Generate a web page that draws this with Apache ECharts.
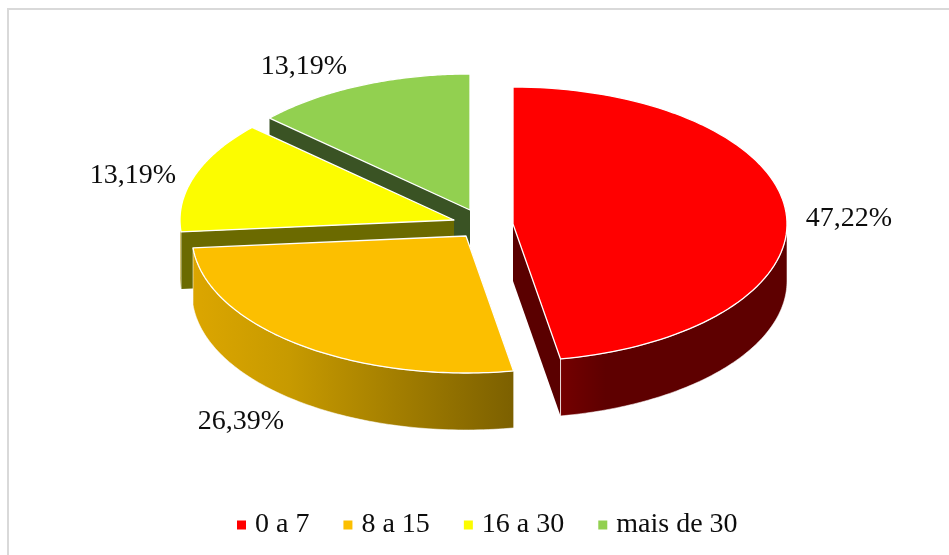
<!DOCTYPE html>
<html>
<head>
<meta charset="utf-8">
<style>html,body{margin:0;padding:0;background:#fff}#c{width:949px;height:555px}</style>
<script src="https://cdn.jsdelivr.net/npm/echarts@6/dist/echarts.min.js"></script>
</head>
<body>
<div id="c"></div>
<script>
var categories = ['0 a 7', '8 a 15', '16 a 30', 'mais de 30'];
var values = [47.22, 26.39, 13.19, 13.19];
var colors = ['#ff0000', '#fcbf00', '#fcfc00', '#92d050'];
var wallEnds = [['#740000', '#5e0000'], ['#dca600', '#7c6000'], ['#6b6a00', '#6b6a00'], ['#3a5324', '#3a5324']];
var sideColors = ['#5a0000', '#7c6000', '#6b6a00', '#3a5324'];

var DEPTH = 57;
var radii = [[274, 137], [274, 137], [274, 137], [272, 136]];
var centers = [[513, 224], [466, 236], [454, 220], [470, 210]];
var labelPos = [[849, 219], [241, 422], [133, 176], [304, 67]];
var total = values.reduce(function (a, b) { return a + b; }, 0);
var FONT = '"Liberation Serif", serif';

function pt(idx, a, dy) {
  var c = centers[idx], r = radii[idx];
  return [c[0] + r[0] * Math.sin(a), c[1] - r[1] * Math.cos(a) + (dy || 0)];
}
function arcPts(idx, a0, a1, dy) {
  var n = 90, out = [];
  for (var i = 0; i <= n; i++) out.push(pt(idx, a0 + (a1 - a0) * i / n, dy));
  return out;
}
function startAngle(idx) {
  var s = 0;
  for (var i = 0; i < idx; i++) s += values[i];
  return s / total * Math.PI * 2;
}
function renderSlice(idx) {
  var c = centers[idx];
  var a0 = startAngle(idx), a1 = a0 + values[idx] / total * Math.PI * 2;
  var children = [];
  var wallStroke = 'rgba(255,255,255,0.55)';
  // inner straight walls, painted back to front
  [a1, a0].forEach(function (a) {
    var p = pt(idx, a);
    children.push({
      type: 'polygon',
      shape: { points: [c, p, [p[0], p[1] + DEPTH], [c[0], c[1] + DEPTH]] },
      style: { fill: sideColors[idx] }
    });
  });
  // outer wall: visible part of the rim, lower half only
  var w0 = Math.max(a0, Math.PI / 2), w1 = Math.min(a1, Math.PI * 1.5);
  if (w1 > w0) {
    var top = arcPts(idx, w0, w1, 0);
    var bot = arcPts(idx, w1, w0, DEPTH);
    var left = wallEnds[idx][0], right = wallEnds[idx][1];
    // the red wall runs dark from its left edge, others fade left to right
    var stops = idx === 0
      ? [{ offset: 0, color: left }, { offset: 0.2, color: right }, { offset: 1, color: right }]
      : [{ offset: 0, color: left }, { offset: 0.3, color: '#c79a00' }, { offset: 1, color: right }];
    children.push({
      type: 'polygon',
      shape: { points: top.concat(bot) },
      style: {
        fill: new echarts.graphic.LinearGradient(0, 0, 1, 0, stops),
        stroke: wallStroke, lineWidth: 1
      }
    });
    if (idx === 0) {
      var e = pt(idx, a1);
      children.push({
        type: 'line',
        shape: { x1: e[0], y1: e[1], x2: e[0], y2: e[1] + DEPTH },
        style: { stroke: wallStroke, lineWidth: 1 }
      });
    }
  }
  // top face
  children.push({
    type: 'polygon',
    shape: { points: [c].concat(arcPts(idx, a0, a1, 0)) },
    style: { fill: colors[idx], stroke: '#ffffff', lineWidth: 1.3, lineJoin: 'round' }
  });
  // value label
  children.push({
    type: 'text',
    style: {
      x: labelPos[idx][0], y: labelPos[idx][1],
      text: values[idx].toFixed(2).replace('.', ',') + '%',
      fill: '#0d0d0d', font: '28px ' + FONT,
      align: 'center', verticalAlign: 'middle'
    }
  });
  return { type: 'group', children: children };
}

// paint order: back slices first
var paintOrder = [3, 2, 1, 0];
var series = paintOrder.map(function (i) {
  return {
    type: 'custom',
    name: categories[i],
    coordinateSystem: 'none',
    data: [values[i]],
    itemStyle: { color: colors[i] },
    renderItem: function () { return renderSlice(i); },
    silent: true,
    animation: false,
    z: 4 - i
  };
});

var chart = echarts.init(document.getElementById('c'), null, { renderer: 'canvas' });
chart.setOption({
  backgroundColor: '#ffffff',
  animation: false,
  graphic: [{
    type: 'rect', silent: true, z: 0,
    shape: { x: 8, y: 9, width: 960, height: 600 },
    style: { fill: '#ffffff', stroke: '#d9d9d9', lineWidth: 2 }
  }],
  legend: {
    data: categories,
    left: 232,
    top: 506,
    icon: 'rect',
    itemWidth: 9,
    itemHeight: 9,
    itemGap: 34,
    formatter: '{name}',
    textStyle: { fontFamily: FONT, fontSize: 28, color: '#0d0d0d', padding: [0, 0, 0, 4] }
  },
  series: series
});
</script>
</body>
</html>
